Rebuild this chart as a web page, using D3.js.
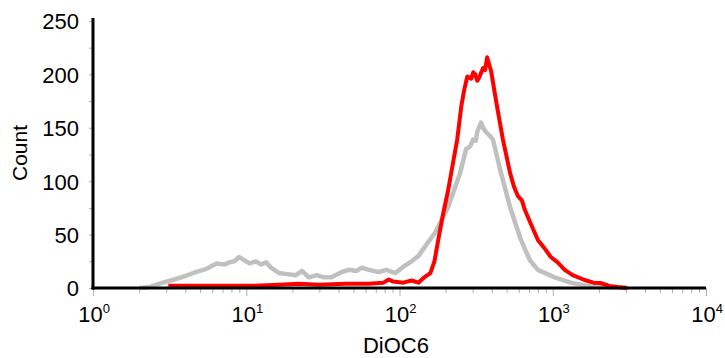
<!DOCTYPE html>
<html>
<head>
<meta charset="utf-8">
<script src="https://cdn.jsdelivr.net/npm/d3@7"></script>
<style>
  body { margin: 0; background: #fff; }
  svg text { font-family: "Liberation Sans", Arial, sans-serif; fill: #000; }
</style>
</head>
<body>
<div class="viz"></div>
<script>
// control (grey) histogram
const controlDiOC6 = [2.0, 2.35, 2.85, 3.4, 3.96, 4.73, 5.5, 6.4, 7.2, 7.76, 8.36, 9.0, 9.7, 10.5, 11.6, 12.5, 13.5, 14.5,
    16.4, 18.5, 21.1, 23.1, 25.6, 28.9, 32, 36, 42, 46.7, 52.5, 56.6, 63, 73, 82, 94, 106, 120, 133, 147, 171,
    208, 249, 272, 290, 302, 315, 321, 341, 352, 362, 385, 407, 459, 526, 620, 709, 800, 1030, 1309, 1687, 2275, 3069];
const controlCount = [0, 1, 5, 8, 11, 15, 18, 23, 22, 24, 25, 29, 26, 23, 25, 22, 24, 19,
    14, 13, 12, 16, 10, 12, 10, 10, 15, 17, 16, 19, 17, 15, 17, 14, 20, 25, 30, 39, 52,
    76, 108, 130, 133, 139, 138, 146, 155, 150, 147, 143, 139, 108, 76, 45, 26, 17, 10, 5, 2, 1, 0];

// DiOC6 stained (red) histogram
const treatedDiOC6 = [3.1, 5, 10.5, 16.4, 22, 29.8, 44.6, 63, 78.7, 85, 91, 106, 120, 133, 145, 159, 169, 179, 193,
    208, 224, 238, 253, 264, 277, 294, 303, 312, 322, 331, 351, 362, 373, 396, 433, 473, 526, 558, 593, 629, 658, 720,
    800, 875, 971, 1077, 1197, 1349, 1614, 1845, 2049, 2344, 2643, 3069];
const treatedCount = [2, 2, 2, 3, 4, 3, 4, 4, 5, 8, 6, 5, 7, 5, 10, 14, 25, 45, 70,
    92, 118, 139, 170, 185, 198, 196, 202, 200, 194, 197, 206, 204, 216, 203, 170, 139, 108, 95, 86, 82, 73, 60,
    45, 38, 29, 24, 17, 12, 7.5, 5, 4.7, 2, 1, 0];

const xDecades = [0, 1, 2, 3, 4];
const yTicks = [0, 50, 100, 150, 200, 250];

const width = 725, height = 358;
const margin = {top: 21, right: 19, bottom: 70, left: 93};

var svg = d3.select('.viz').append('svg')
    .attr('width', width)
    .attr('height', height);

var x = d3.scaleLog()
    .domain([1, 10000])
    .range([margin.left, width - margin.right]);

var y = d3.scaleLinear()
    .domain([0, 250])
    .range([height - margin.bottom, margin.top]);

// y axis: grey ticks every 25, labels every 50
var yAxis = d3.axisLeft(y)
    .tickValues(d3.range(0, 251, 25))
    .tickSize(4)
    .tickPadding(10)
    .tickFormat(d => yTicks.includes(d) ? d : "");

var gy = svg.append('g')
    .attr('transform', 'translate(' + margin.left + ',0)')
    .call(yAxis);
gy.select('.domain').remove();
gy.selectAll('.tick line').attr('stroke', '#b0b0b0');
gy.selectAll('.tick text').style('font-size', '22px').attr('dy', '0.36em');

// x axis: minor ticks 2..9 in each decade
var minor = [];
xDecades.slice(0, -1).forEach(k => {
    for (let m = 1; m < 10; m++) minor.push(m * Math.pow(10, k));
});
minor.push(10000);

var xAxis = d3.axisBottom(x)
    .tickValues(minor)
    .tickSize(5)
    .tickFormat("");

var gx = svg.append('g')
    .attr('transform', 'translate(0,' + y(0) + ')')
    .call(xAxis);
gx.select('.domain').remove();
gx.selectAll('.tick line')
    .attr('stroke', '#b0b0b0')
    .attr('y2', d => Number.isInteger(Math.log10(d)) ? 8 : 5);

// decade labels with superscripts
var lab = svg.append('g').selectAll('text')
    .data(xDecades)
    .enter().append('text')
    .attr('x', d => x(Math.pow(10, d)) + 1)
    .attr('y', 322)
    .attr('text-anchor', 'middle')
    .style('font-size', '22px');
lab.append('tspan').text('10');
lab.append('tspan')
    .attr('dy', -9)
    .style('font-size', '13px')
    .text(d => d);

// curves
var line = d3.line()
    .x(d => x(d[0]))
    .y(d => y(d[1]));

svg.append('path')
    .datum(controlDiOC6.map((v, i) => [v, controlCount[i]]))
    .attr('d', line)
    .attr('fill', 'none')
    .attr('stroke', '#c0c0c0')
    .attr('stroke-width', 4.5)
    .attr('stroke-linejoin', 'round');

svg.append('path')
    .datum(treatedDiOC6.map((v, i) => [v, treatedCount[i]]))
    .attr('d', line)
    .attr('fill', 'none')
    .attr('stroke', '#ff0000')
    .attr('stroke-width', 4)
    .attr('stroke-linejoin', 'round');

// axis lines
svg.append('line')
    .attr('x1', margin.left).attr('x2', margin.left)
    .attr('y1', margin.top - 3).attr('y2', y(0) + 1.5)
    .attr('stroke', '#000').attr('stroke-width', 3);
svg.append('line')
    .attr('x1', margin.left - 1.5).attr('x2', width - margin.right)
    .attr('y1', y(0)).attr('y2', y(0))
    .attr('stroke', '#000').attr('stroke-width', 3);

// axis titles
svg.append('text')
    .attr('x', 396).attr('y', 353)
    .attr('text-anchor', 'middle')
    .style('font-size', '22px')
    .text('DiOC6');

svg.append('text')
    .attr('transform', 'translate(27,153) rotate(-90)')
    .attr('text-anchor', 'middle')
    .style('font-size', '21px')
    .text('Count');
</script>
</body>
</html>
